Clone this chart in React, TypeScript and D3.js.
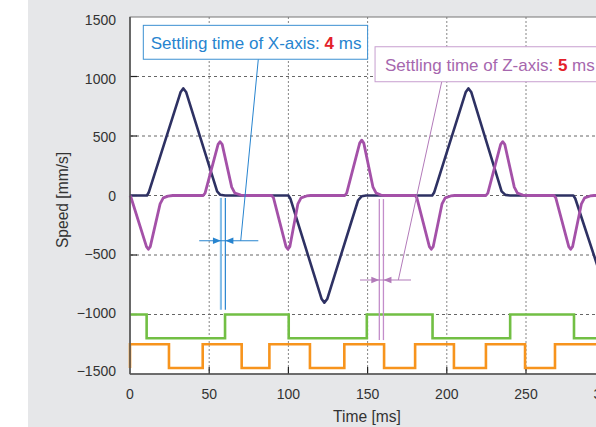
import React from 'react';
import * as d3 from 'd3';

// speed profiles: [time ms, speed mm/s]
const xAxisSpeed: [number, number][] = [
  [0, 0], [10.7, 0], [11.8, 25], [32, 870], [33.6, 900], [35.4, 870], [55, 35], [57, 6], [60, 0],
  [100, 0], [101.2, -25], [121, -870], [122.7, -900], [124.5, -870], [144, -40], [146.3, -6], [149, 0],
  [190.8, 0], [192, 25], [212, 870], [213.6, 900], [215.4, 870], [234.6, 35], [237, 5], [240, 0],
  [279.9, 0], [281.1, -25], [300, -790],
];

const zAxisSpeed: [number, number][] = [
  [0, 0], [0.6, -15], [10.4, -430], [11.6, -452], [12.8, -430], [19, -70], [21, -20], [24, -5], [27, 0],
  [46.2, 0], [47.4, 20], [55.6, 430], [56.8, 452], [58.2, 430], [64.2, 70], [66.2, 20], [70, 4], [73, 0],
  [89.5, 0], [90.6, -20], [98.5, -430], [99.7, -452], [100.9, -430], [106, -70], [108, -20], [111.5, -4], [114, 0],
  [135.6, 0], [136.8, 20], [145, 440], [146.3, 465], [147.6, 440], [153.4, 70], [155.4, 20], [158.5, 4], [161, 0],
  [180, 0], [181.1, -20], [189, -430], [190.2, -452], [191.4, -430], [197, -70], [199, -20], [202.5, -4], [205, 0],
  [224.7, 0], [225.9, 20], [234, 430], [235.3, 452], [236.6, 430], [242.6, 70], [244.6, 20], [248, 4], [251, 0],
  [267.7, 0], [268.8, -20], [277, -430], [278.2, -452], [279.4, -430], [285, -70], [287, -20], [290.5, -4], [293, 0],
  [300, 0],
];

// digital signals: switching times (ms), starting on the high level
const greenEdges = [0, 10.5, 60, 100.2, 149.5, 191, 240, 280.3];
const greenLevels = [-1000, -1200];
const orangeEdges = [0, 24.6, 45.9, 70.5, 88, 113.6, 135.3, 160.4, 180, 204.5, 224.7, 249.4, 268.3];
const orangeLevels = [-1250, -1450];

const xTicks = [0, 50, 100, 150, 200, 250, 300];
const yTicks = [-1500, -1000, -500, 0, 500, 1000, 1500];

// settling-time annotations (data units)
const xSettle = [57.4, 60.2];
const zSettle = [157.4, 160.0];

const W = 596;
const H = 427;
const x = d3.scaleLinear().domain([0, 300]).range([130, 605.2]);
const y = d3.scaleLinear().domain([-1500, 1500]).range([374, 17]);

function stepPoints(edges: number[], levels: number[], leadIn: boolean): [number, number][] {
  const pts: [number, number][] = [];
  if (leadIn) pts.push([edges[0], levels[1]]);
  edges.forEach((t, i) => pts.push([t, levels[i % 2]]));
  pts.push([300, levels[(edges.length - 1) % 2]]);
  return pts;
}

const line = d3.line<[number, number]>().x(d => x(d[0])).y(d => y(d[1]));
const stepLine = d3.line<[number, number]>().x(d => x(d[0])).y(d => y(d[1])).curve(d3.curveStepAfter);

function arrowHead(tipX: number, tipY: number, dir: number) {
  const l = 8, h = 3.2;
  return `M${tipX},${tipY}L${tipX - dir * l},${tipY - h}L${tipX - dir * l},${tipY + h}Z`;
}

const font = '"Liberation Sans", Arial, Helvetica, sans-serif';

export default function App() {
  const bx = x(xSettle[0]), bx2 = x(xSettle[1]), by = y(-380);
  const pz = x(zSettle[0]), pz2 = x(zSettle[1]), pzy = y(-710);
  const blue = '#2784cf';
  const purple = '#b27ab9';
  return (
    <svg width={W} height={H} style={{ position: 'absolute', left: 0, top: 0, fontFamily: font }}>
      <rect x={28} y={0} width={W - 28} height={H} fill="#e6e7e9" />
      <rect x={130} y={17} width={480} height={357} fill="#fff" stroke="#777" strokeWidth={1} />

      {/* grid */}
      {yTicks.filter(v => v > -1500 && v < 1500).map(v => (
        <line key={'gy' + v} x1={130} x2={W} y1={y(v)} y2={y(v)} stroke="#555" strokeWidth={0.9} strokeDasharray="3,3" />
      ))}
      {xTicks.filter(t => t > 0).map(t => (
        <line key={'gx' + t} x1={x(t)} x2={x(t)} y1={17} y2={374} stroke="#777" strokeWidth={0.9} strokeDasharray="2,2" />
      ))}

      {/* ticks */}
      {yTicks.filter(v => v > -1500 && v < 1500).map(v => (
        <line key={'ty' + v} x1={130} x2={137} y1={y(v)} y2={y(v)} stroke="#222" strokeWidth={1.2} />
      ))}
      {xTicks.filter(t => t > 0).map(t => (
        <line key={'tx' + t} x1={x(t)} x2={x(t)} y1={374} y2={367} stroke="#222" strokeWidth={1.2} />
      ))}

      {/* signals */}
      <path d={stepLine(stepPoints(greenEdges, greenLevels, false)) || ''} fill="none" stroke="#72bf44" strokeWidth={2.6} />
      <path d={stepLine(stepPoints(orangeEdges, orangeLevels, true)) || ''} fill="none" stroke="#f7941d" strokeWidth={2.6} />
      <path d={line(xAxisSpeed) || ''} fill="none" stroke="#2e3163" strokeWidth={2.6} strokeLinejoin="round" />
      <path d={line(zAxisSpeed) || ''} fill="none" stroke="#a451a8" strokeWidth={2.8} strokeLinejoin="round" />

      {/* axes */}
      <line x1={130} x2={130} y1={17} y2={374} stroke="#555" strokeWidth={1.6} />
      <line x1={130} x2={W} y1={374} y2={374} stroke="#555" strokeWidth={1.6} />

      {yTicks.map(v => (
        <text key={'ly' + v} x={116} y={y(v) + 5 + 3 * (v / 1500)} textAnchor="end" fontSize={14} fill="#333">
          {d3.format('')(v).replace('-', '\u2212')}
        </text>
      ))}
      {xTicks.map(t => (
        <text key={'lx' + t} x={x(t)} y={399} textAnchor="middle" fontSize={14} fill="#333">{t}</text>
      ))}
      <text x={367} y={422} textAnchor="middle" fontSize={15.6} fill="#333">Time [ms]</text>
      <text transform="translate(68,200) rotate(-90)" textAnchor="middle" fontSize={15.6} fill="#333">Speed [mm/s]</text>

      {/* X-axis settling annotation */}
      <line x1={bx} x2={bx} y1={y(-20)} y2={y(-960)} stroke="#86bfe9" strokeWidth={2.2} />
      <line x1={bx2} x2={bx2} y1={y(-20)} y2={y(-960)} stroke={blue} strokeWidth={1.2} />
      <line x1={x(43.7)} x2={x(81)} y1={by} y2={by} stroke={blue} strokeWidth={1.1} />
      <path d={arrowHead(bx, by, 1)} fill={blue} />
      <path d={arrowHead(bx2, by, -1)} fill={blue} />
      <line x1={x(69.9)} y1={by} x2={x(81)} y2={y(1145)} stroke={blue} strokeWidth={1} />
      <rect x={x(8.4)} y={y(1430)} width={x(150) - x(8.4)} height={y(1145) - y(1430)} fill="#fff" stroke="#3b90d2" strokeWidth={1} />
      <text x={150.7} y={48.5} fontSize={17} fill={blue}>
        Settling time of X-axis: <tspan fill="#e3202a" fontWeight="bold">4</tspan> ms
      </text>

      {/* Z-axis settling annotation */}
      <line x1={pz} x2={pz} y1={y(-30)} y2={y(-1215)} stroke="#c38dca" strokeWidth={1.3} />
      <line x1={pz2} x2={pz2} y1={y(-30)} y2={y(-1215)} stroke="#c38dca" strokeWidth={1.3} />
      <line x1={x(145.2)} x2={x(177.4)} y1={pzy} y2={pzy} stroke={purple} strokeWidth={1.1} />
      <path d={arrowHead(pz, pzy, 1)} fill={purple} />
      <path d={arrowHead(pz2, pzy, -1)} fill={purple} />
      <line x1={x(169.4)} y1={pzy} x2={x(196.8)} y2={y(956)} stroke={purple} strokeWidth={1} />
      <rect x={x(154.7)} y={y(1250)} width={x(300) - x(154.7)} height={y(956) - y(1250)} fill="#fff" stroke="#c79fcf" strokeWidth={1} />
      <text x={385} y={70.5} fontSize={17} fill="#a667ae">
        Settling time of Z-axis: <tspan fill="#e3202a" fontWeight="bold">5</tspan> ms
      </text>
    </svg>
  );
}
